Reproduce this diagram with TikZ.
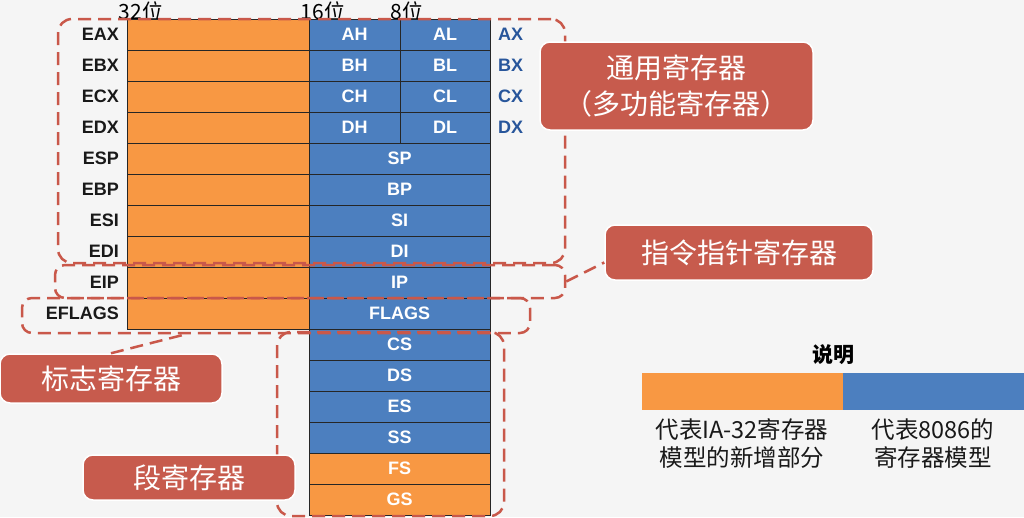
\documentclass[tikz,border=0pt]{standalone}
\usepackage{fontspec}
\setmainfont{Liberation Sans}
\newfontfamily\cjk{Noto Sans CJK SC}
\usetikzlibrary{calc}
\definecolor{bg}{RGB}{245,245,245}
\definecolor{org}{RGB}{248,152,67}
\definecolor{blu}{RGB}{76,127,191}
\definecolor{lbl}{RGB}{199,91,77}
\definecolor{dsh}{RGB}{201,88,74}
\definecolor{dkb}{RGB}{40,86,155}
\begin{document}
\begin{tikzpicture}[x=1pt,y=-1pt,
  cell/.style={draw=black!85,line width=0.8pt,minimum height=31pt,inner sep=0pt,text=white,font=\fontsize{18}{18}\selectfont\bfseries},
  rlab/.style={anchor=east,inner sep=0pt,text=black!90,font=\fontsize{18}{18}\selectfont\bfseries},
  xlab/.style={anchor=west,inner sep=0pt,text=dkb,font=\fontsize{18}{18}\selectfont\bfseries},
  toplab/.style={inner sep=0pt,font=\cjk\fontsize{21}{21}\selectfont},
  dbox/.style={draw=dsh,line width=2.5pt,dash pattern=on 13pt off 7pt,rounded corners=14pt,inner sep=0pt},
  dline/.style={draw=dsh,line width=2.5pt,dash pattern=on 13pt off 7pt},
  lab/.style={fill=lbl,draw=white,line width=1.5pt,rounded corners=10pt,text=white,font=\cjk\fontsize{28}{36}\selectfont,inner sep=0pt,align=center},
  legtxt/.style={inner sep=0pt,align=center,text=black!90,font=\cjk\fontsize{23.5}{28}\selectfont},
  bar/.style={inner sep=0pt,minimum height=37pt}
]
\useasboundingbox (0,0) rectangle (1024,517);
\fill[bg] (0,0) rectangle (1024,517);

% top bit labels
\node[toplab] (b32) at (141,11) {32位};
\node[toplab] (b16) at (323,11) {16位};
\node[toplab] (b8) at (407,11) {8位};

% general registers with high/low halves
\foreach \r/\h/\l/\x [count=\i from 0] in {EAX/AH/AL/AX,EBX/BH/BL/BX,ECX/CH/CL/CX,EDX/DH/DL/DX} {
  \pgfmathsetmacro\yc{34.5+31*\i}
  \node[rlab] (n\i) at (119,\yc) {\r};
  \node[cell,fill=org,minimum width=182pt] (o\i) at (218,\yc) {};
  \node[cell,fill=blu,minimum width=91pt] (h\i) at (354.5,\yc) {\h};
  \node[cell,fill=blu,minimum width=90pt] (l\i) at (445,\yc) {\l};
  \node[xlab] (x\i) at (498,\yc) {\x};
}
% other 32-bit registers
\foreach \r/\s [count=\i from 4] in {ESP/SP,EBP/BP,ESI/SI,EDI/DI,EIP/IP,EFLAGS/FLAGS} {
  \pgfmathsetmacro\yc{34.5+31*\i}
  \node[rlab] (n\i) at (119,\yc) {\r};
  \node[cell,fill=org,minimum width=182pt] (o\i) at (218,\yc) {};
  \node[cell,fill=blu,minimum width=181pt] (s\i) at (399.5,\yc) {\s};
}
% segment registers
\foreach \s/\c [count=\i from 10] in {CS/blu,DS/blu,ES/blu,SS/blu,FS/org,GS/org} {
  \pgfmathsetmacro\yc{34.5+31*\i}
  \node[cell,fill=\c,minimum width=181pt] (s\i) at (399.5,\yc) {\s};
}

% dashed group boxes
\node[dbox,minimum width=507pt,minimum height=244pt] (gpbox) at (311.5,141) {};
\node[dbox,rounded corners=10pt,minimum width=510pt,minimum height=33pt] (ipbox) at (310,281.5) {};
\node[dbox,rounded corners=10pt,minimum width=508pt,minimum height=35pt] (flbox) at (276,315.5) {};
\node[dbox,minimum width=227pt,minimum height=184pt] (sgbox) at (390.5,424) {};

% labels
\node[lab,minimum width=273pt,minimum height=88pt] (gplabel) at (676.5,86) {通用寄存器\\（多功能寄存器）};
\node[lab,minimum width=268pt,minimum height=55pt] (iplabel) at (739,252.5) {指令指针寄存器};
\node[lab,minimum width=222pt,minimum height=49pt] (fllabel) at (111,378.5) {标志寄存器};
\node[lab,minimum width=212pt,minimum height=45pt] (sglabel) at (189,477.5) {段寄存器};

% connectors
\draw[dline] (ipbox.east) -- ($(iplabel.west)+(0,10)$);
\draw[dline] (fllabel.north) -- ($(flbox.south west)+(165,0)$);

% legend
\node[inner sep=0pt,font=\cjk\fontsize{21}{21}\selectfont\bfseries] (legt) at (833,355) {说明};
\node[bar,fill=org,minimum width=201pt] (lego) at (742.5,391.5) {};
\node[bar,fill=blu,minimum width=181pt] (legb) at (933.5,391.5) {};
\node[legtxt] (legot) at (742,444) {代表IA-32寄存器\\模型的新增部分};
\node[legtxt] (legbt) at (933,444) {代表8086的\\寄存器模型};
\end{tikzpicture}
\end{document}
